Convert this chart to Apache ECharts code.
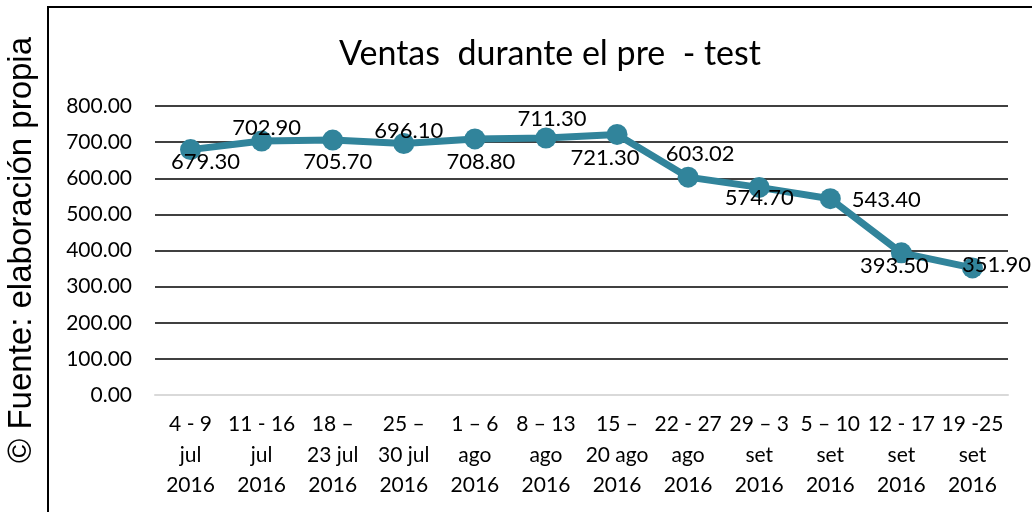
<!DOCTYPE html>
<html><head><meta charset="utf-8">
<script src="https://cdn.jsdelivr.net/npm/echarts@6/dist/echarts.min.js"></script>
<style>html,body{margin:0;padding:0;background:#fff}#c{width:1032px;height:512px}</style>
</head><body><div id="c"></div>
<script>
const categories = ['4 - 9\njul\n2016','11 - 16\njul\n2016','18 –\n23 jul\n2016','25 –\n30 jul\n2016','1 – 6\nago\n2016','8 – 13\nago\n2016','15 –\n20 ago\n2016','22 - 27\nago\n2016','29 – 3\nset\n2016','5 – 10\nset\n2016','12 - 17\nset\n2016','19 -25\nset\n2016'];
const ventas = [679.30, 702.90, 705.70, 696.10, 708.80, 711.30, 721.30, 603.02, 574.70, 543.40, 393.50, 351.90];
const titleText = 'Ventas  durante el pre  - test';
const sourceText = '© Fuente: elaboración propia';
const labelOffsets = [[15,12],[5,-13],[5,22],[5,-13],[6,23],[6,-19],[-12,23],[12,-23],[0,11],[56,1],[-7,13],[24,-3]];
const FONT = 'Lato';
const chart = echarts.init(document.getElementById('c'));
chart.setOption({
  animation: false,
  backgroundColor: '#fff',
  title: {text: titleText, left: 545, top: 32, textAlign: 'center',
    textStyle: {fontFamily: FONT, fontSize: 34, fontWeight: 'normal', color: '#000'}},
  graphic: [
    {type: 'rect', shape: {x: 48, y: 7, width: 1000, height: 520}, style: {fill: 'none', stroke: '#000', lineWidth: 2}, silent: true},
    {type: 'text', x: 22, y: 250, rotation: Math.PI/2,
      style: {text: sourceText, font: '33px "Liberation Sans"', fill: '#000', align: 'center', verticalAlign: 'middle'}}
  ],
  grid: {left: 155, right: 24, top: 106, bottom: 117, containLabel: false},
  xAxis: {type: 'category', data: categories, boundaryGap: true,
    axisLine: {show: true, lineStyle: {color: '#d9d9d9', width: 2}},
    axisTick: {show: false},
    axisLabel: {interval: 0, margin: 14, fontFamily: FONT, fontSize: 21, color: '#000', lineHeight: 30.5}},
  yAxis: {type: 'value', min: 0, max: 800, interval: 100,
    axisLine: {show: false}, axisTick: {show: false},
    axisLabel: {formatter: v => v.toFixed(2), margin: 23, fontFamily: FONT, fontSize: 21, color: '#000'},
    splitLine: {lineStyle: {color: '#000', width: 1.5}}},
  series: [{
    type: 'line', data: ventas.map((v, i) => ({value: v, label: {offset: labelOffsets[i]}})),
    lineStyle: {color: '#31849B', width: 7},
    itemStyle: {color: '#31849B'},
    symbol: 'circle', symbolSize: 21,
    label: {show: true, position: 'inside', formatter: p => p.value.toFixed(2),
      fontFamily: FONT, fontSize: 22, color: '#000'}
  }]
});
</script></body></html>
